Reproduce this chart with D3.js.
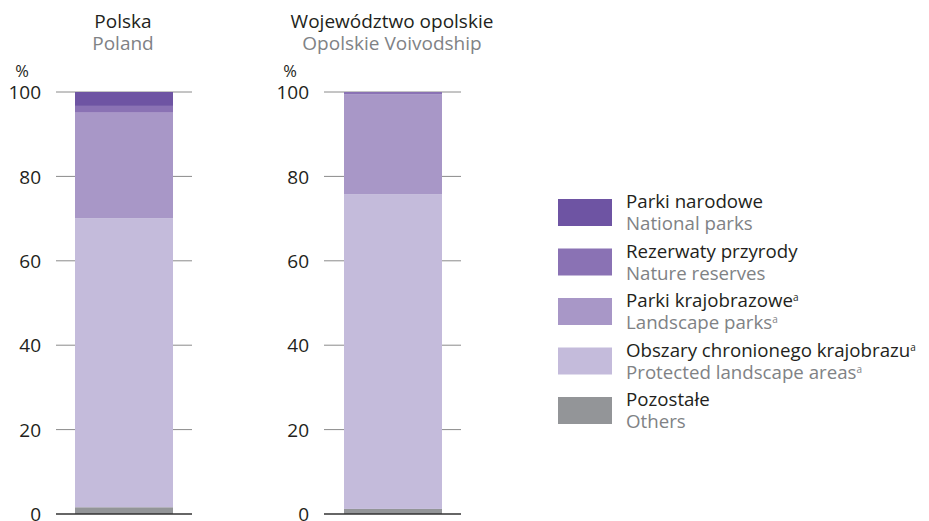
<!DOCTYPE html>
<html><head><meta charset="utf-8">
<script src="https://cdn.jsdelivr.net/npm/d3@7"></script>
<style>body{margin:0;background:#fff}svg{display:block}text{font-family:"Open Sans","Noto Sans",sans-serif}</style>
</head><body><svg id="c" width="929" height="521"></svg>
<script>
const regionsPL = ["Polska", "Województwo opolskie"];
const regionsEN = ["Poland", "Opolskie Voivodship"];
const seriesPL = ["Parki narodowe", "Rezerwaty przyrody", "Parki krajobrazowe", "Obszary chronionego krajobrazu", "Pozostałe"];
const seriesEN = ["National parks", "Nature reserves", "Landscape parks", "Protected landscape areas", "Others"];
const seriesSup = [false, false, true, true, false];
// values per region, stacked bottom→top: Others, PLA, LP, NR, NP
const others = [1.6, 1.2];
const protectedLandscape = [68.5, 74.6];
const landscapeParks = [25.0, 23.7];
const natureReserves = [1.6, 0.5];
const nationalParks = [3.3, 0.0];
const yTicks = [0, 20, 40, 60, 80, 100];
const colors = ["#6e54a3", "#8a72b4", "#a897c7", "#c4bbdb", "#939598"];

const FONT = "'Open Sans', 'Noto Sans', sans-serif";
const svg = d3.select("#c");
const y = d3.scaleLinear().domain([0, 100]).range([514, 92]);
const panels = [{x0: 56, x1: 192, bx0: 75, bx1: 173}, {x0: 324, x1: 461, bx0: 344, bx1: 442}];
const stackOrder = [others, protectedLandscape, landscapeParks, natureReserves, nationalParks];
const stackColors = [colors[4], colors[3], colors[2], colors[1], colors[0]];

panels.forEach((p, i) => {
  const g = svg.append("g");
  const xb = d3.scaleBand().domain([regionsPL[i]]).range([p.bx0, p.bx1]).padding(0);
  const cx = xb(regionsPL[i]) + xb.bandwidth() / 2 - 1;
  g.append("text").attr("x", cx).attr("y", 28).attr("text-anchor", "middle").attr("font-size", 19).attr("fill", "#231f20").text(regionsPL[i]);
  g.append("text").attr("x", cx).attr("y", 50).attr("text-anchor", "middle").attr("font-size", 19).attr("fill", "#808285").text(regionsEN[i]);
  yTicks.forEach(t => {
    if (t > 0) g.append("line").attr("x1", p.x0).attr("x2", p.x1).attr("y1", y(t)).attr("y2", y(t))
      .attr("stroke", "#8a8a8a").attr("stroke-width", 1);
  });
  const ax = d3.axisLeft(y).tickValues(yTicks).tickSize(0).tickPadding(0);
  const axG = g.append("g").attr("transform", `translate(${p.x0 - 15},0)`).call(ax);
  axG.select(".domain").remove();
  axG.selectAll("text").attr("font-size", 19).attr("fill", "#231f20").attr("font-family", FONT).attr("dy", "0.35em");
  g.append("text").attr("x", p.x0 - 34).attr("y", 77).attr("text-anchor", "middle").attr("font-size", 16.5).attr("fill", "#231f20").text("%");
  let acc = 0;
  stackOrder.forEach((arr, k) => {
    const v = arr[i];
    if (v > 0) {
      g.append("rect").attr("x", xb(regionsPL[i])).attr("width", xb.bandwidth())
        .attr("y", y(acc + v)).attr("height", y(acc) - y(acc + v)).attr("fill", stackColors[k]);
    }
    acc += v;
  });
  g.append("line").attr("x1", p.x0).attr("x2", p.x1).attr("y1", y(0)).attr("y2", y(0)).attr("stroke", "#333").attr("stroke-width", 1.5);
});

const lg = svg.append("g");
seriesPL.forEach((s, k) => {
  const top = 199 + k * 49.5;
  lg.append("rect").attr("x", 558).attr("y", top).attr("width", 54).attr("height", 27).attr("fill", colors[k]);
  const t1 = lg.append("text").attr("x", 626).attr("y", top + 9).attr("font-size", 18.7).attr("fill", "#231f20").text(s);
  const t2 = lg.append("text").attr("x", 626).attr("y", top + 31).attr("font-size", 18.7).attr("fill", "#808285").text(seriesEN[k]);
  if (seriesSup[k]) {
    t1.append("tspan").attr("font-size", 10).attr("dy", -6).text("a");
    t2.append("tspan").attr("font-size", 10).attr("dy", -6).text("a");
  }
});
</script></body></html>
